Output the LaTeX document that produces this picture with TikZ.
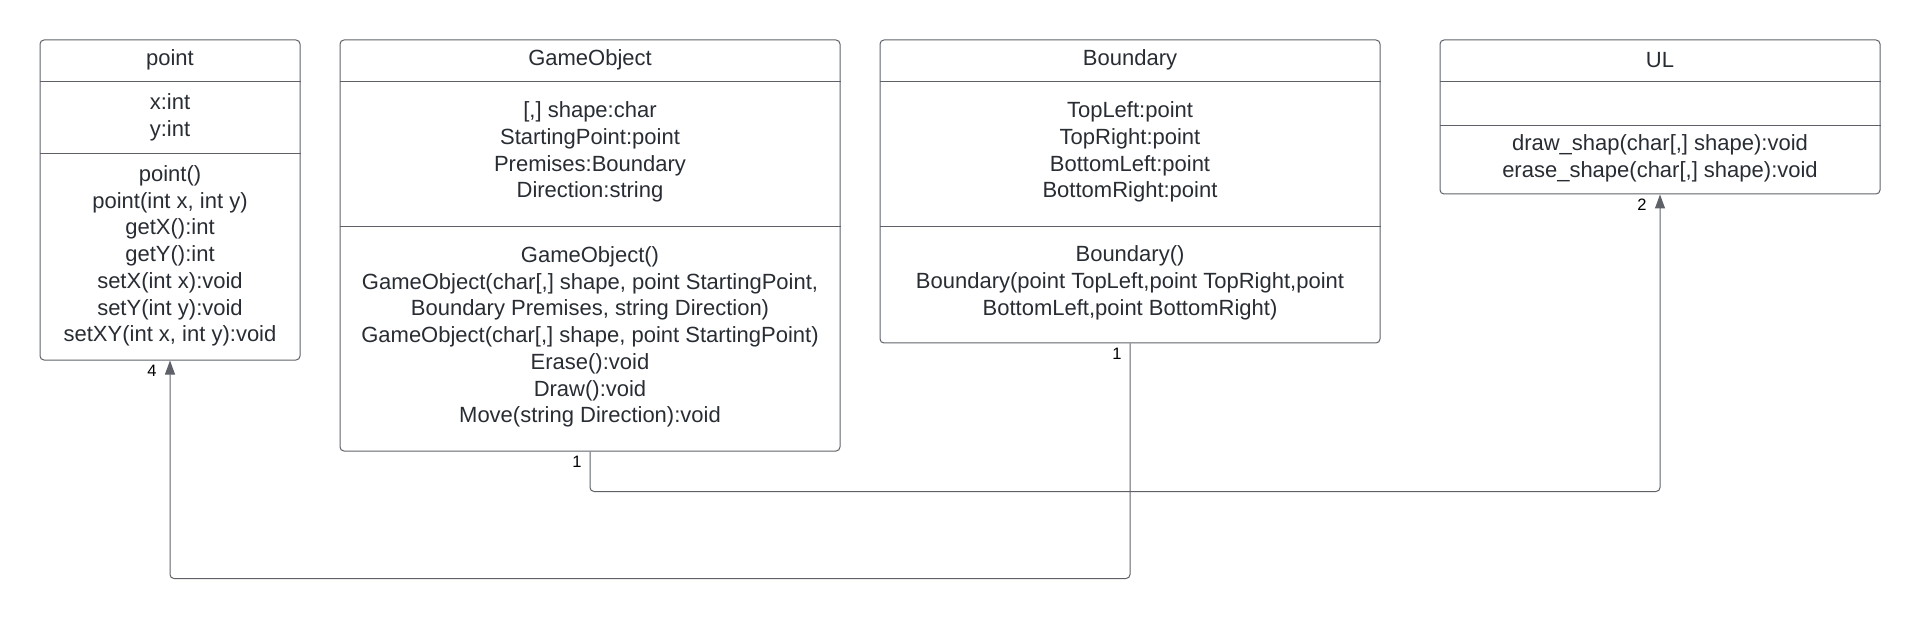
\documentclass[tikz,border=0pt]{standalone}
\usepackage{fontspec}
\setmainfont{Liberation Sans}
\usetikzlibrary{arrows.meta}

\definecolor{linegray}{RGB}{94,98,104}
\definecolor{textgray}{RGB}{40,44,51}

\tikzset{
  classbox/.style={draw=linegray, line width=1pt, rounded corners=4pt, inner sep=0pt},
  divider/.style={draw=linegray, line width=1pt},
  member/.style={align=center, text=textgray, inner sep=0pt, font=\fontsize{22}{26.7}\selectfont},
  mult/.style={inner sep=0pt, font=\fontsize{16.5}{16.5}\selectfont},
  assoc/.style={draw=linegray, line width=1pt, rounded corners=4pt, -{Triangle[length=14pt,width=10pt]}}
}

\begin{document}
\begin{tikzpicture}[x=1pt,y=-1pt]
  \useasboundingbox (0,0) rectangle (1920,620);

  % Draw class boxes
  \node[classbox, minimum width=260pt, minimum height=320pt] (point) at (170,200) {};
  \node[classbox, minimum width=500pt, minimum height=411pt] (gameobject) at (590,245.5) {};
  \node[classbox, minimum width=500pt, minimum height=303pt] (boundary) at (1130,191.5) {};
  \node[classbox, minimum width=440pt, minimum height=154pt] (ul) at (1660,117) {};

  % Draw compartment lines
  \foreach \b in {point,gameobject,boundary,ul}
    \draw[divider] (\b.west |- 0,82) -- (\b.east |- 0,82);
  \draw[divider] (point.west |- 0,154) -- (point.east |- 0,154);
  \draw[divider] (gameobject.west |- 0,227) -- (gameobject.east |- 0,227);
  \draw[divider] (boundary.west |- 0,227) -- (boundary.east |- 0,227);
  \draw[divider] (ul.west |- 0,126) -- (ul.east |- 0,126);

  % Class names
  \node[member] (point-name) at (170,60) {point};
  \node[member] (gameobject-name) at (590,60) {GameObject};
  \node[member] (boundary-name) at (1130,60) {Boundary};
  \node[member] (ul-name) at (1660,60) {UL};

  % Attributes
  \node[member] (point-attr) at (170,117) {x:int\\y:int};
  \node[member] (gameobject-attr) at (590,152) {[,] shape:char\\StartingPoint:point\\Premises:Boundary\\Direction:string};
  \node[member] (boundary-attr) at (1130,152) {TopLeft:point\\TopRight:point\\BottomLeft:point\\BottomRight:point};

  % Operations
  \node[member] (point-ops) at (170,256) {point()\\point(int x, int y)\\getX():int\\getY():int\\setX(int x):void\\setY(int y):void\\setXY(int x, int y):void};
  \node[member] (gameobject-ops) at (590,337) {GameObject()\\GameObject(char[,] shape, point StartingPoint,\\Boundary Premises, string Direction)\\GameObject(char[,] shape, point StartingPoint)\\Erase():void\\Draw():void\\Move(string Direction):void};
  \node[member] (boundary-ops) at (1130,283) {Boundary()\\Boundary(point TopLeft,point TopRight,point\\BottomLeft,point BottomRight)};
  \node[member] (ul-ops) at (1660,158) {draw\_shap(char[,] shape):void\\erase\_shape(char[,] shape):void};

  % Associations
  \draw[assoc] (gameobject.south) -- ++(0,40) -| (ul.south);
  \draw[assoc] (boundary.south) -- ++(0,235) -| (point.south);

  % Multiplicities
  \node[mult] (m-gameobject) at ([xshift=-13pt,yshift=-10pt]gameobject.south) {1};
  \node[mult] (m-ul) at ([xshift=-18pt,yshift=-10pt]ul.south) {2};
  \node[mult] (m-boundary) at ([xshift=-13pt,yshift=-10pt]boundary.south) {1};
  \node[mult] (m-point) at ([xshift=-18pt,yshift=-10pt]point.south) {4};
\end{tikzpicture}
\end{document}
